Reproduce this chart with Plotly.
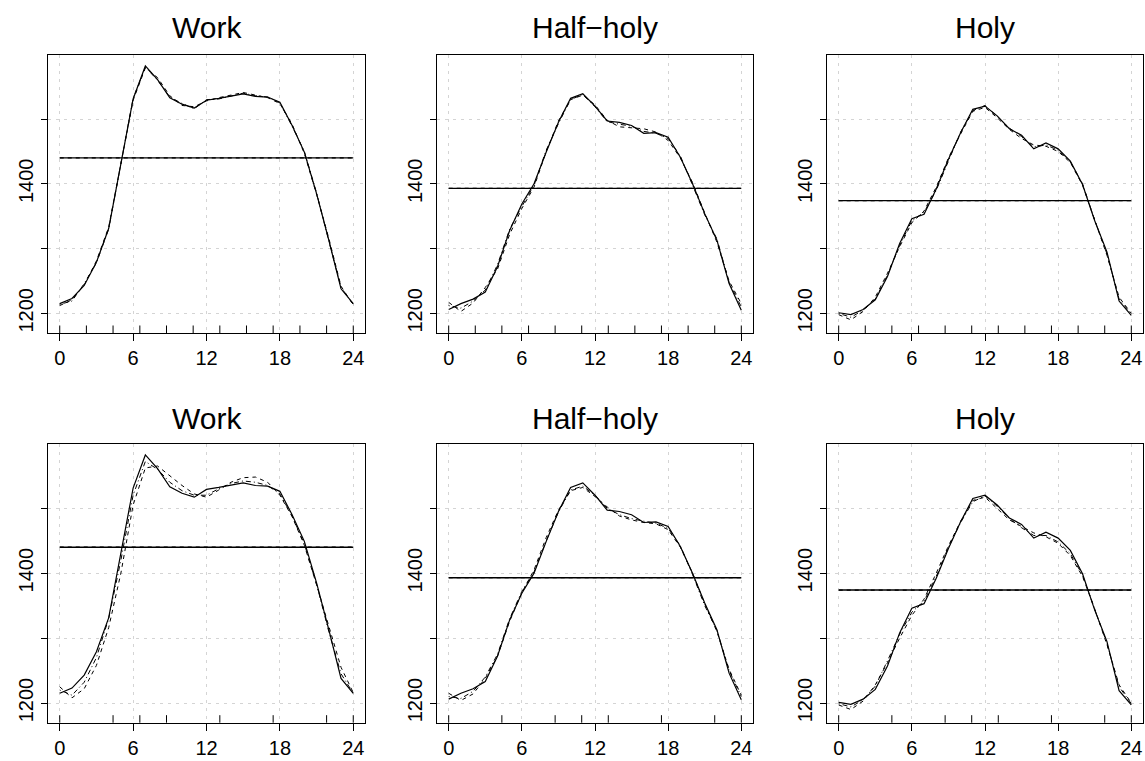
import plotly.graph_objects as go

# ---------------- data ----------------
hours = list(range(25))
titles = ["Work", "Half\u2212holy", "Holy"]

work_obs = [1215, 1223, 1243, 1279, 1331, 1432, 1531, 1582, 1561, 1533, 1523, 1517, 1529,
            1532, 1536, 1539, 1535, 1534, 1526, 1490, 1449, 1385, 1313, 1238, 1215]
halfholy_obs = [1206, 1215, 1222, 1233, 1272, 1328, 1369, 1400, 1449, 1495, 1532, 1539, 1520,
                1497, 1495, 1490, 1478, 1479, 1472, 1441, 1400, 1354, 1313, 1246, 1205]
holy_obs = [1201, 1198, 1206, 1221, 1257, 1308, 1346, 1353, 1392, 1438, 1479, 1515, 1520,
            1505, 1485, 1475, 1454, 1463, 1454, 1435, 1399, 1343, 1295, 1219, 1197]

work_mean = 1440
halfholy_mean = 1393
holy_mean = 1374

# top row fits
work_fit_dash_top = [1212, 1221, 1244, 1281, 1333, 1430, 1529, 1579, 1564, 1536, 1521, 1519, 1528,
                     1533, 1537, 1541, 1537, 1533, 1524, 1492, 1447, 1384, 1316, 1242, 1213]
work_fit_dotdash_top = [1214, 1219, 1246, 1278, 1330, 1434, 1532, 1580, 1560, 1534, 1524, 1516, 1530,
                        1531, 1535, 1540, 1536, 1534, 1525, 1489, 1450, 1386, 1312, 1240, 1214]
halfholy_fit_dash_top = [1217, 1203, 1216, 1240, 1268, 1322, 1362, 1395, 1450, 1497, 1530, 1537, 1522,
                         1498, 1488, 1487, 1485, 1480, 1467, 1440, 1402, 1355, 1310, 1250, 1215]
halfholy_fit_dotdash_top = [1212, 1208, 1219, 1236, 1275, 1330, 1365, 1398, 1452, 1493, 1530, 1538, 1519,
                            1496, 1492, 1489, 1481, 1478, 1470, 1443, 1398, 1352, 1315, 1248, 1210]
holy_fit_dash_top = [1198, 1190, 1203, 1225, 1262, 1303, 1340, 1358, 1395, 1440, 1477, 1512, 1518,
                     1502, 1484, 1470, 1460, 1458, 1450, 1433, 1398, 1345, 1290, 1225, 1200]
holy_fit_dotdash_top = [1200, 1194, 1205, 1222, 1259, 1305, 1343, 1356, 1390, 1436, 1480, 1513, 1521,
                        1504, 1486, 1473, 1457, 1460, 1452, 1434, 1400, 1344, 1292, 1222, 1199]

# bottom row fits
work_fit_dash_bot = [1225, 1208, 1222, 1258, 1316, 1400, 1505, 1562, 1565, 1550, 1535, 1522, 1517,
                     1528, 1540, 1547, 1548, 1540, 1520, 1487, 1443, 1382, 1318, 1255, 1216]
work_fit_dotdash_bot = [1220, 1212, 1232, 1270, 1330, 1420, 1520, 1572, 1560, 1540, 1527, 1520, 1520,
                        1530, 1538, 1542, 1540, 1535, 1522, 1488, 1445, 1383, 1310, 1245, 1215]
halfholy_fit_dash_bot = [1215, 1204, 1214, 1238, 1272, 1326, 1370, 1405, 1455, 1497, 1527, 1532, 1518,
                         1502, 1488, 1482, 1478, 1476, 1467, 1440, 1400, 1353, 1310, 1252, 1212]
halfholy_fit_dotdash_bot = [1210, 1207, 1218, 1240, 1275, 1330, 1372, 1402, 1450, 1494, 1528, 1534, 1520,
                            1500, 1490, 1484, 1480, 1477, 1469, 1442, 1398, 1350, 1312, 1250, 1210]
holy_fit_dash_bot = [1197, 1190, 1203, 1228, 1262, 1300, 1335, 1360, 1400, 1442, 1480, 1512, 1517,
                     1500, 1482, 1472, 1462, 1456, 1446, 1427, 1395, 1345, 1290, 1228, 1200]
holy_fit_dotdash_bot = [1199, 1194, 1205, 1226, 1265, 1306, 1340, 1357, 1395, 1440, 1478, 1510, 1519,
                        1503, 1484, 1470, 1458, 1458, 1448, 1430, 1397, 1343, 1292, 1225, 1199]

# knot positions (rug)
knots_top = [0, 2.18, 4.36, 6.55, 8.73, 10.91, 13.09, 15.27, 17.45, 19.64, 21.82, 24]
knots_bot_work = [0, 4.36, 6.55, 8.73, 13.09, 17.45, 21.82, 24]
knots_bot_halfholy = [0, 4.36, 8.73, 10.91, 13.09, 17.45, 21.82, 24]
knots_bot_holy = [0, 4.36, 8.73, 10.91, 13.09, 17.45, 21.82, 24]

x_ticks = [0, 6, 12, 18, 24]
y_ticks = [1200, 1300, 1400, 1500]
y_ticktext = ["1200", "", "1400", ""]

# ---------------- layout ----------------
W, H = 1145, 761
col_px = [(48, 365), (437, 753), (827, 1143)]
row_px = [(55, 333), (444, 722.7)]
title_px = [28, 418]
x_range = [-0.96, 24.96]
y_range = [1169.7, 1598.9]

FONT = "Liberation Sans, Arial, Helvetica, sans-serif"
DASH = "4px,4px"
DOTDASH = "1px,3px,5px,3px"
GRID = "#d4d4d4"

panels = [
    (0, 0, work_obs, work_fit_dash_top, work_fit_dotdash_top, work_mean, knots_top),
    (0, 1, halfholy_obs, halfholy_fit_dash_top, halfholy_fit_dotdash_top, halfholy_mean, knots_top),
    (0, 2, holy_obs, holy_fit_dash_top, holy_fit_dotdash_top, holy_mean, knots_top),
    (1, 0, work_obs, work_fit_dash_bot, work_fit_dotdash_bot, work_mean, knots_bot_work),
    (1, 1, halfholy_obs, halfholy_fit_dash_bot, halfholy_fit_dotdash_bot, halfholy_mean, knots_bot_halfholy),
    (1, 2, holy_obs, holy_fit_dash_bot, holy_fit_dotdash_bot, holy_mean, knots_bot_holy),
]

fig = go.Figure()
shapes = []
annotations = []
layout_axes = {}

for i, (r, c, obs, fdash, fdot, mean, knots) in enumerate(panels):
    n = i + 1
    xa = "x" if n == 1 else f"x{n}"
    ya = "y" if n == 1 else f"y{n}"
    xkey = "xaxis" if n == 1 else f"xaxis{n}"
    ykey = "yaxis" if n == 1 else f"yaxis{n}"
    x0p, x1p = col_px[c]
    top, bot = row_px[r]
    layout_axes[xkey] = dict(
        domain=[x0p / W, x1p / W], anchor=ya, range=x_range,
        tickmode="array", tickvals=x_ticks, ticktext=[str(v) for v in x_ticks],
        ticks="outside", ticklen=7, tickwidth=1, tickcolor="black",
        showticklabels=True,
        showline=True, mirror=True, linecolor="black", linewidth=1,
        showgrid=True, gridcolor=GRID, griddash="3px,5px", gridwidth=1,
        zeroline=False, automargin=False,
        tickfont=dict(family=FONT, size=20, color="black"),
    )
    layout_axes[ykey] = dict(
        domain=[1 - bot / H, 1 - top / H], anchor=xa, range=y_range,
        tickmode="array", tickvals=y_ticks, ticktext=y_ticktext,
        ticks="outside", ticklen=6, tickwidth=1, tickcolor="black",
        tickangle=-90,
        showline=True, mirror=True, linecolor="black", linewidth=1,
        showgrid=True, gridcolor=GRID, griddash="3px,5px", gridwidth=1,
        zeroline=False, automargin=False,
        tickfont=dict(family=FONT, size=20, color="black"),
    )
    # mean lines (solid + dashed overlay)
    fig.add_trace(go.Scatter(x=[hours[0], hours[-1]], y=[mean, mean], mode="lines",
                             line=dict(color="black", width=1.4), xaxis=xa, yaxis=ya,
                             showlegend=False, hoverinfo="skip"))
    fig.add_trace(go.Scatter(x=[hours[0], hours[-1]], y=[mean, mean], mode="lines",
                             line=dict(color="black", width=1.2, dash=DASH), xaxis=xa, yaxis=ya,
                             showlegend=False, hoverinfo="skip"))
    # fits
    fig.add_trace(go.Scatter(x=hours, y=fdash, mode="lines",
                             line=dict(color="black", width=1, dash=DASH), xaxis=xa, yaxis=ya,
                             showlegend=False))
    fig.add_trace(go.Scatter(x=hours, y=fdot, mode="lines",
                             line=dict(color="black", width=1, dash=DOTDASH), xaxis=xa, yaxis=ya,
                             showlegend=False))
    # observed
    fig.add_trace(go.Scatter(x=hours, y=obs, mode="lines",
                             line=dict(color="black", width=1.2), xaxis=xa, yaxis=ya,
                             showlegend=False))
    # rug of knots
    for k in knots:
        shapes.append(dict(type="line", xref=xa, yref=f"{ya} domain", x0=k, x1=k, y0=0, y1=0.027,
                           line=dict(color="black", width=1)))
    annotations.append(dict(text=titles[c], xref="paper", yref="paper",
                            x=(x0p + x1p) / 2 / W, y=1 - title_px[r] / H,
                            xanchor="center", yanchor="middle", showarrow=False,
                            font=dict(family=FONT, size=30, color="black")))

fig.update_layout(
    width=W, height=H,
    margin=dict(l=0, r=0, t=0, b=0),
    paper_bgcolor="white", plot_bgcolor="white",
    shapes=shapes, annotations=annotations,
    **layout_axes,
)

# remove the page's default body margin so the figure fills the window exactly
fig.write_html(
    "out.html",
    config={"displayModeBar": False},
    post_script="document.body.style.margin='0';document.body.style.overflow='hidden';",
)
